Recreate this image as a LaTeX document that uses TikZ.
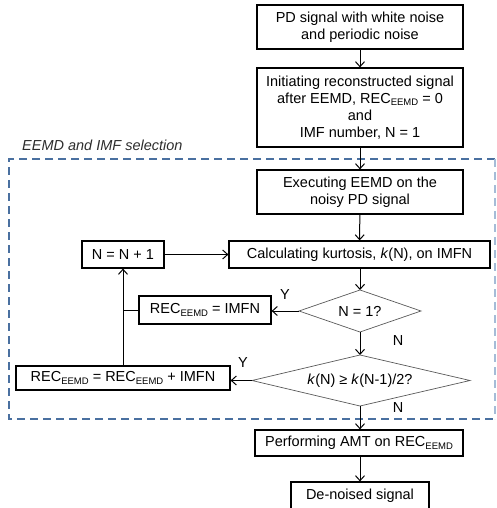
\documentclass[tikz,border=0pt]{standalone}
\usepackage{fontspec}
\setmainfont{Liberation Sans}
\usetikzlibrary{arrows.meta}
\definecolor{groupblue}{RGB}{74,112,160}
\definecolor{groupfade}{RGB}{165,188,215}
\definecolor{labelgray}{RGB}{45,45,45}
\newcommand\eemd{\raisebox{-2.6pt}{\fontsize{9.5}{10}\selectfont EEMD}}
\tikzset{
  every node/.style={font=\fontsize{14.5}{17}\selectfont, text=black},
  procbox/.style={draw, line width=1.2pt, rectangle, inner sep=0pt, align=center},
  decisionline/.style={draw=black!65, line width=0.7pt},
  flow/.style={line width=1pt, -{Straight Barb[length=5pt,width=9pt,line width=1pt]}},
  plain/.style={line width=1pt},
  yn/.style={inner sep=0pt},
  groupline/.style={draw=groupblue, line width=2pt, dash pattern=on 8pt off 5pt}
}
\begin{document}
\begin{tikzpicture}[x=1pt,y=-1pt]
\useasboundingbox (0,0) rectangle (497,508);
\clip (0,0) rectangle (497,508);

% dashed frame around the selection loop
\draw[groupline] (495,159) -- (9,159) -- (9,419) -- (495,419);
\draw[groupline, draw=groupfade] (495,159) -- (495,419);
\node[anchor=west, inner sep=0pt, text=labelgray, font=\fontsize{14.5}{17}\selectfont\itshape] (grp) at (22,145) {EEMD and IMF selection};

% main column
\node[procbox, minimum width=206pt, minimum height=44pt] (input) at (360,27)
  {PD signal with white noise\\and periodic noise};
\node[procbox, minimum width=206pt, minimum height=79pt] (init) at (360,107.5)
  {Initiating reconstructed signal\\after EEMD, REC\eemd{} = 0\\and\\IMF number, N = 1};
\node[procbox, minimum width=206pt, minimum height=44pt] (exec) at (360,192)
  {Executing EEMD on the\\noisy PD signal};
\node[procbox, minimum width=261pt, minimum height=27pt] (kurt) at (359.5,254.5)
  {Calculating kurtosis, \textit{k}(N), on IMFN};

% decision "N = 1?"
\coordinate (first-n) at (360,290);
\coordinate (first-s) at (360,332);
\coordinate (first-w) at (299,311);
\coordinate (first-e) at (421,311);
\draw[decisionline] (first-n) -- (first-e) -- (first-s) -- (first-w) -- cycle;
\node (first) at (360,311) {N = 1?};

% decision on the kurtosis ratio
\coordinate (test-n) at (360,355);
\coordinate (test-s) at (360,406);
\coordinate (test-w) at (252,380.5);
\coordinate (test-e) at (470,380.5);
\draw[decisionline] (test-n) -- (test-e) -- (test-s) -- (test-w) -- cycle;
\node (test) at (360,380.5) {\textit{k}(N) ≥ \textit{k}(N-1)/2?};

\node[procbox, minimum width=208pt, minimum height=26pt] (amt) at (359,443)
  {Performing AMT on REC\eemd};
\node[procbox, minimum width=138pt, minimum height=27pt] (out) at (360,495.5)
  {De-noised signal};

% left branch
\node[procbox, minimum width=82pt, minimum height=27pt] (next) at (123,254.5)
  {N = N + 1};
\node[procbox, minimum width=132pt, minimum height=28pt] (setrec) at (205,310)
  {REC\eemd{} = IMFN};
\node[procbox, minimum width=214pt, minimum height=24pt] (addrec) at (123,378)
  {REC\eemd{} = REC\eemd{} + IMFN};

% connectors
\draw[flow] (input) -- (init);
\draw[flow] (init) -- (exec);
\draw[flow] (exec) -- (kurt);
\draw[flow] (kurt.south -| first-n) -- (first-n);
\draw[flow] (first-s) -- (test-n);
\draw[flow] (test-s) -- (amt.north -| test-s);
\draw[flow] (amt.south -| out.north) -- (out.north);
\draw[flow] (first-w) -- (setrec.east |- first-w);
\draw[flow] (test-w) -- (addrec.east |- test-w);
\draw[flow] (next) -- (kurt);
\draw[flow] (addrec.north) -- (next.south);
\draw[plain] (setrec.west) -- (setrec.west -| next.south);

% branch labels
\node[yn] (y1) at (285,295) {Y};
\node[yn] (y2) at (243,363) {Y};
\node[yn] (n1) at (398,341) {N};
\node[yn] (n2) at (398,408) {N};
\end{tikzpicture}
\end{document}
